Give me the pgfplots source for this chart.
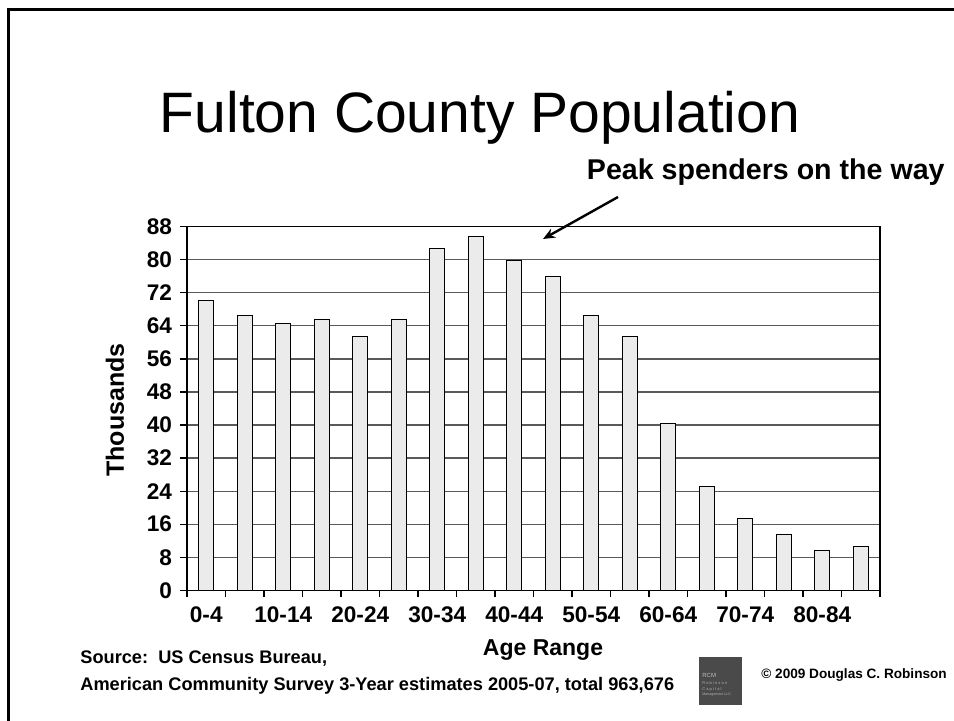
\documentclass[border=0pt]{standalone}
\usepackage{fontspec}
\setmainfont{Liberation Sans}
\usepackage{pgfplots}
\pgfplotsset{compat=1.18}
\usetikzlibrary{arrows.meta}
\definecolor{barfill}{HTML}{EBEBEB}
\definecolor{gridc}{HTML}{5A5A5A}
\definecolor{logo}{HTML}{4A4A4A}
\begin{document}
\begin{tikzpicture}
\begin{scope}[x=0.5pt,y=-0.5pt]
\useasboundingbox (0,0) rectangle (954,721);
\draw[line width=1.5pt] (8,721) -- (8,9.5) -- (954,9.5);
\node[anchor=base, inner sep=0pt, font=\fontsize{28.5}{32}\selectfont] at (480,133) {Fulton County Population};
\node[anchor=base east, inner sep=0pt, font=\bfseries\fontsize{14.3}{16}\selectfont] at (945,180) {Peak spenders on the way};
\draw[line width=1.2pt, -{Stealth[length=6pt,width=5pt]}] (618,197) -- (543,239);
\node[rotate=90, inner sep=0pt, font=\bfseries\fontsize{12.5}{14}\selectfont] at (115,410) {Thousands};
\node[inner sep=0pt, font=\bfseries\fontsize{11.5}{14}\selectfont] at (543,650) {Age Range};
\node[anchor=base west, inner sep=0pt, font=\bfseries\fontsize{9.1}{10}\selectfont] at (80,664) {Source:\ \ US Census Bureau,};
\node[anchor=base west, inner sep=0pt, font=\bfseries\fontsize{9.1}{10}\selectfont] at (80,690) {American Community Survey 3-Year estimates 2005-07, total 963,676};
\fill[logo] (699,657) rectangle (742,705);
\node[anchor=base west, inner sep=0pt, text=white!75!black, font=\fontsize{3}{3}\selectfont] at (702,677) {RCM};
\node[anchor=base west, inner sep=0pt, text=white!70!black, font=\fontsize{2}{2}\selectfont] at (702,684) {R o b i n s o n};
\node[anchor=base west, inner sep=0pt, text=white!70!black, font=\fontsize{2}{2}\selectfont] at (702,690) {C a p i t a l};
\node[anchor=base west, inner sep=0pt, text=white!70!black, font=\fontsize{1.8}{2}\selectfont] at (702,696) {Management LLC};
\node[anchor=base west, inner sep=0pt, font=\bfseries\fontsize{6.8}{8}\selectfont] at (761,678) {\textcopyright{} 2009 Douglas C. Robinson};
\end{scope}
\begin{axis}[
  at={(93.5pt,-295.15pt)}, anchor=south west,
  width=346.5pt, height=181.8pt, scale only axis,
  xmin=-0.5, xmax=17.5, ymin=0, ymax=88,
  ybar, bar width=7.5pt, bar shift=0pt,
  ytick={0,8,...,88},
  ymajorgrids, grid style={gridc, line width=0.6pt},
  xtick={0,2,...,16},
  xticklabels={0-4,10-14,20-24,30-34,40-44,50-54,60-64,70-74,80-84},
  minor xtick={-0.5,0.5,...,17.5},
  major x tick style={draw=none},
  tick align=outside, xtick pos=bottom, ytick pos=left,
  major tick length=3.5pt, minor tick length=3.5pt,
  tick style={black, line width=0.6pt},
  axis line style={black, line width=0.6pt},
  /pgf/number format/assume math mode=true,
  tick label style={font=\bfseries\fontsize{11.3}{13}\selectfont},
  yticklabel style={xshift=-0.5pt},
  xticklabel style={yshift=-1pt},
]
\addplot[fill=barfill, draw=black, line width=0.5pt] coordinates {
(0,70.2) (1,66.4) (2,64.5) (3,65.5) (4,61.5) (5,65.5) (6,82.7) (7,85.7) (8,79.9)
(9,76.0) (10,66.4) (11,61.5) (12,40.3) (13,25.1) (14,17.4) (15,13.5) (16,9.6) (17,10.5)};
\end{axis}
\end{tikzpicture}
\end{document}
